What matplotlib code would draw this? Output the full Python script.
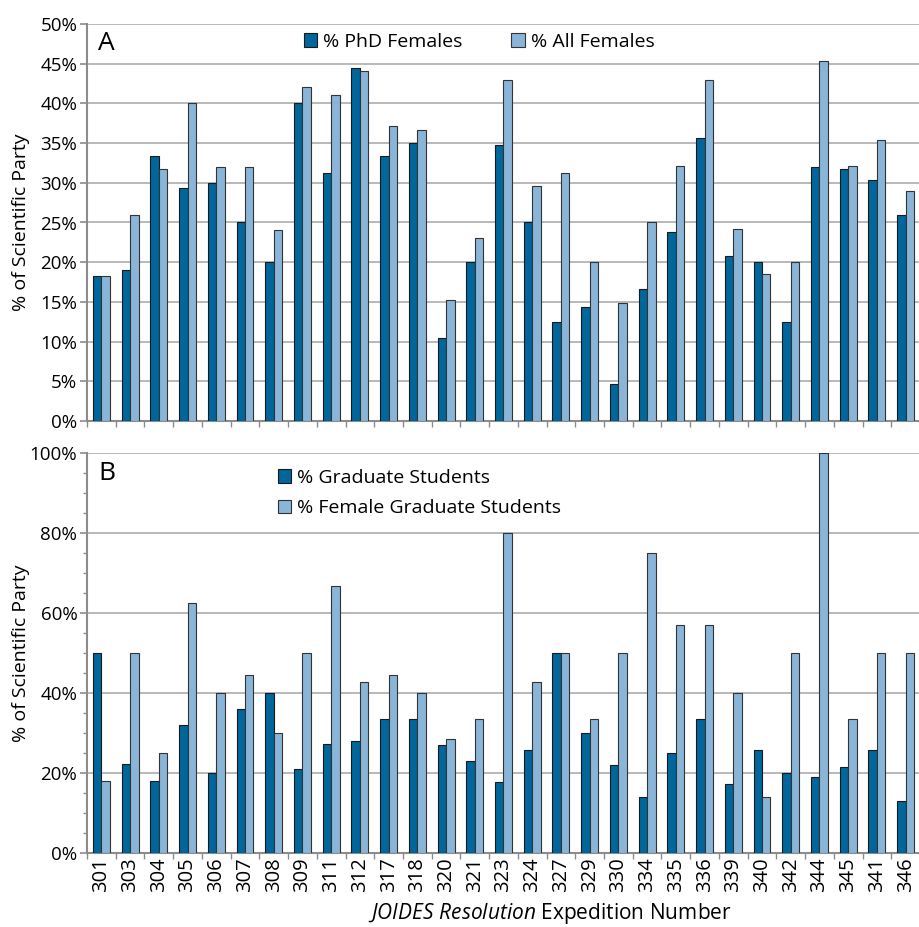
import matplotlib.pyplot as plt
import numpy as np

plt.rcParams['font.family'] = ['Open Sans', 'DejaVu Sans']
plt.rcParams['mathtext.fontset'] = 'custom'
plt.rcParams['mathtext.it'] = 'Open Sans:italic'
plt.rcParams['mathtext.rm'] = 'Open Sans'

expeditions = ["301", "303", "304", "305", "306", "307", "308", "309", "311", "312",
               "317", "318", "320", "321", "323", "324", "327", "329", "330", "334",
               "335", "336", "339", "340", "342", "344", "345", "341", "346"]

# panel A
phd_females = [18.2, 19.0, 33.4, 29.4, 30.0, 25.0, 20.0, 40.0, 31.2, 44.5,
               33.4, 35.0, 10.5, 20.0, 34.7, 25.0, 12.5, 14.3, 4.7, 16.6,
               23.8, 35.7, 20.8, 20.0, 12.5, 32.0, 31.8, 30.4, 25.9]
all_females = [18.2, 25.9, 31.8, 40.0, 32.0, 32.0, 24.1, 42.1, 41.0, 44.1,
               37.1, 36.7, 15.3, 23.1, 42.9, 29.6, 31.2, 20.0, 14.8, 25.0,
               32.1, 42.9, 24.2, 18.5, 20.0, 45.3, 32.1, 35.4, 29.0]

# panel B
grad_students = [50.0, 22.2, 18.1, 32.0, 20.0, 36.0, 40.0, 21.0, 27.2, 28.0,
                 33.4, 33.4, 27.0, 22.9, 17.8, 25.8, 50.0, 30.0, 22.0, 14.1,
                 25.0, 33.4, 17.2, 25.8, 20.0, 19.1, 21.5, 25.8, 13.0]
female_grads = [18.1, 50.0, 25.0, 62.4, 40.0, 44.5, 30.0, 50.0, 66.7, 42.8,
                44.5, 40.0, 28.6, 33.4, 80.0, 42.8, 50.0, 33.4, 50.0, 75.0,
                57.1, 57.1, 40.0, 14.1, 50.0, 100.0, 33.4, 50.0, 50.0]

dark = "#00669b"
light = "#89b5d8"
grid_c = "#b3b3b3"
W, H = 920, 927

fig = plt.figure(figsize=(W / 100, H / 100), dpi=100)
ax_a = fig.add_axes([87 / W, 1 - 421 / H, 1 - 87 / W, 397 / H])
ax_b = fig.add_axes([87 / W, 1 - 853 / H, 1 - 87 / W, 400 / H])

x = np.arange(len(expeditions))
bw = 0.295
# the original figure is cropped through the last group
xmax = -0.5 + (W - 87) / 29.1


def draw_panel(ax, s1, s2, lab1, lab2, ymax, major, minor):
    ax.bar(x - bw / 2, s1, bw, color=dark, edgecolor="#1a1a1a", linewidth=0.8, label=lab1, zorder=3)
    ax.bar(x + bw / 2, s2, bw, color=light, edgecolor="#333333", linewidth=0.8, label=lab2, zorder=3)
    ax.set_xlim(-0.5, xmax)
    ax.set_ylim(0, ymax)
    ax.set_yticks(np.arange(0, ymax + 0.1, major))
    ax.set_yticklabels([f"{int(v)}%" for v in np.arange(0, ymax + 0.1, major)])
    if minor:
        ax.set_yticks(np.arange(0, ymax + 0.1, minor), minor=True)
    ax.grid(axis="y", which="major", color=grid_c, linewidth=1.3, zorder=0)
    for s in ["top", "right"]:
        ax.spines[s].set_visible(False)
    for s in ["left", "bottom"]:
        ax.spines[s].set_color("#8c8c8c")
        ax.spines[s].set_linewidth(1.5)
    ax.set_xticks(np.arange(-0.5, len(expeditions), 1.0))
    ax.set_xticklabels([])
    ax.tick_params(axis="x", which="major", length=4, color="#8c8c8c", width=1)
    ax.tick_params(axis="y", which="major", length=5, color="#8c8c8c", width=1.2, labelsize=13.5, pad=2)
    ax.tick_params(axis="y", which="minor", length=3, color="#8c8c8c", width=1)
    ax.set_ylabel("% of Scientific Party", fontsize=14)


draw_panel(ax_a, phd_females, all_females, "% PhD Females", "% All Females", 50, 5, None)
draw_panel(ax_b, grad_students, female_grads, "% Graduate Students", "% Female Graduate Students", 100, 20, 5)
ax_a.yaxis.set_label_coords(-57 / (W - 87), 0.5)
ax_b.yaxis.set_label_coords(-57 / (W - 87), 0.5)

ax_b.set_xticks(x, minor=True)
ax_b.set_xticklabels(expeditions, minor=True, rotation=90, fontsize=14.5)
ax_b.tick_params(axis="x", which="minor", length=0, pad=3)
ax_b.set_xlabel("")
fig.text(550 / W, 1 - 914 / H, r"$\it{JOIDES\ Resolution}$ Expedition Number", fontsize=15,
         ha="center", va="center")

fig.text(98 / W, 1 - 44 / H, "A", fontsize=19, va="center")
fig.text(98 / W, 1 - 473 / H, "B", fontsize=19, va="center")

ax_a.legend(loc="center left", bbox_to_anchor=(296 / W, 1 - 42 / H), bbox_transform=fig.transFigure,
            ncol=2, frameon=False, fontsize=14, handlelength=0.7, handleheight=0.7,
            handletextpad=0.3, columnspacing=2.5, borderaxespad=0)
ax_b.legend(loc="center left", bbox_to_anchor=(270 / W, 1 - 493 / H), bbox_transform=fig.transFigure,
            ncol=1, frameon=False, fontsize=14, handlelength=0.7, handleheight=0.7,
            handletextpad=0.3, labelspacing=0.65, borderaxespad=0)

fig.savefig("out.png", dpi=100)
